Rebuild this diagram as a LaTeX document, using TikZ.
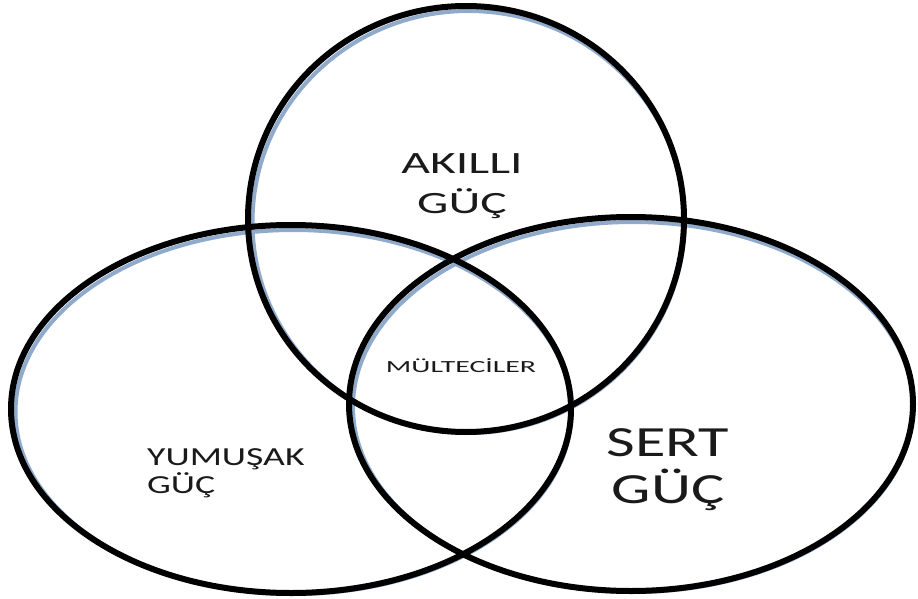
\documentclass[tikz,border=0pt]{standalone}
\usepackage{fontspec}
\setmainfont{Carlito}
\usetikzlibrary{shapes.geometric}
\definecolor{shade}{HTML}{8FAACB}
\definecolor{ink}{HTML}{1A1A1A}
\begin{document}
\begin{tikzpicture}[x=1pt,y=-1pt,
  ring/.style={draw=black,line width=6pt},
  ringshade/.style={draw=shade,line width=4pt},
  lbl/.style={text=ink,inner sep=0pt,align=center}]
\useasboundingbox (0,0) rectangle (918,599);
% shadows
\draw[ringshade] (468.5,222) ellipse [x radius=216, y radius=211];
\draw[ringshade] (293.5,412) ellipse [x radius=278, y radius=182];
\draw[ringshade] (633,407) ellipse [x radius=280, y radius=185];
% rings
\draw[ring] (466,219) ellipse [x radius=218, y radius=213];
\draw[ring] (291,409) ellipse [x radius=280, y radius=184];
\draw[ring] (631,404) ellipse [x radius=282, y radius=187];
% labels
\node[lbl,anchor=base] (akilli) at (462,173) {\scalebox{1.6}[1]{\fontsize{31}{31}\selectfont AKILLI}};
\node[lbl,anchor=base] (akgu) at (462,213) {\scalebox{1.6}[1]{\fontsize{31}{31}\selectfont GÜÇ}};
\node[lbl,anchor=base] (sert) at (668,456) {\scalebox{1.45}[1]{\fontsize{43}{43}\selectfont SERT}};
\node[lbl,anchor=base] (sertgu) at (668,503) {\scalebox{1.45}[1]{\fontsize{43}{43}\selectfont GÜÇ}};
\node[lbl,anchor=base west] (yum) at (147,465) {\scalebox{1.45}[1]{\fontsize{26}{26}\selectfont YUMUŞAK}};
\node[lbl,anchor=base west] (yumgu) at (147,493) {\scalebox{1.45}[1]{\fontsize{26}{26}\selectfont GÜÇ}};
\node[lbl,anchor=base] (mult) at (461,372) {\scalebox{1.75}[1]{\fontsize{17}{17}\selectfont MÜLTECİLER}};
\end{tikzpicture}
\end{document}
